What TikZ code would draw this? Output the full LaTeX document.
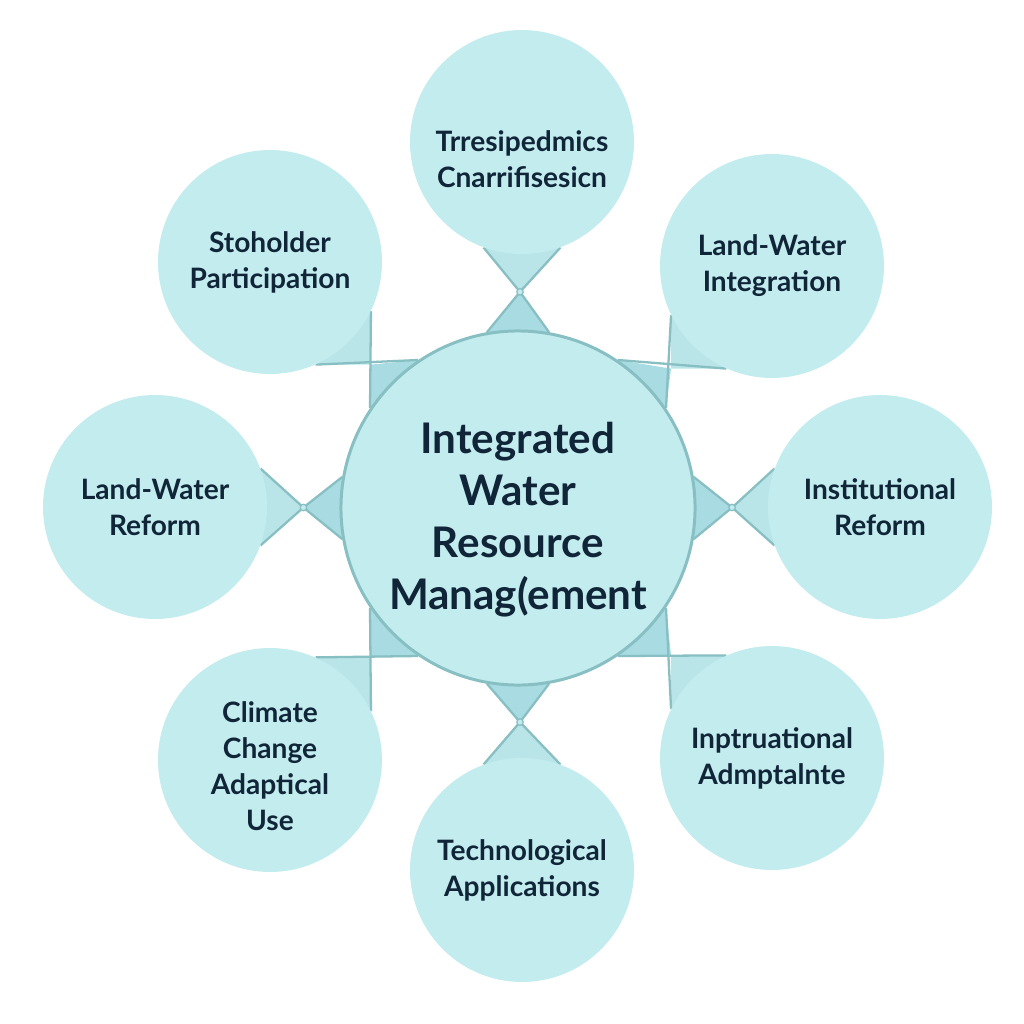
\documentclass[tikz,border=0pt]{standalone}
\usepackage{fontspec}
\setmainfont{Lato}
\usetikzlibrary{backgrounds,calc}

\definecolor{bubble}{HTML}{C3ECEF}
\definecolor{rim}{HTML}{88BFC3}
\definecolor{ink}{HTML}{102538}
\definecolor{tiedark}{HTML}{A8DCE2}
\definecolor{tielight}{HTML}{B9E5E9}

\tikzset{
  hub/.style={circle,fill=bubble,draw=rim,line width=1.7pt,minimum size=7cm,
    text=ink,align=center,font=\fontsize{24}{29.5}\selectfont\bfseries},
  topic/.style={circle,fill=bubble,minimum size=4.48cm,
    text=ink,align=center,font=\fontsize{16}{20.5}\selectfont\bfseries},
  tie/.style={draw=rim,line width=1.3pt},
  knot/.style={circle,draw=rim,fill=bubble,line width=0.7pt,inner sep=1.3pt},
}

\begin{document}
\begin{tikzpicture}[x=0.02cm,y=-0.02cm]
      \useasboundingbox (0,0) rectangle (1024,1024);

      \node[hub] (c) at (518,508) {\rule{0pt}{1.1cm}Integrated\\Water\\Resource\\Manag(ement};

      \node[topic] (t)  at (522,142) {\rule{0pt}{1.1cm}Trresipedmics\\Cnarrifisesicn};
      \node[topic] (ul) at (270,262) {Stoholder\\Participation};
      \node[topic] (ur) at (772,266) {Land-Water\\Integration};
      \node[topic] (l)  at (155,507) {Land-Water\\Reform};
      \node[topic] (r)  at (880,507) {Institutional\\Reform};
      \node[topic] (ll) at (270,760) {\rule{0pt}{0.65cm}Climate\\Change\\Adaptical\\Use};
      \node[topic] (lr) at (772,758) {Inptruational\\Admptalnte};
      \node[topic] (b)  at (522,870) {Technological\\Applications};

      \begin{pgfonlayer}{background}
        \fill[white] (0,0) rectangle (1024,1024);
        % bow ties to the four straight neighbours
        \foreach \n/\a/\o in {t/90/270,r/0/180,b/270/90,l/180/0}{
          \pgfmathtruncatemacro\ap{\a+10}
          \pgfmathtruncatemacro\am{\a-10}
          \pgfmathtruncatemacro\op{\o+20}
          \pgfmathtruncatemacro\om{\o-20}
          \coordinate (x\n) at ($(c.\a)!0.5!(\n.\o)$);
          \fill[tielight] (\n.\op)--(x\n)--(\n.\om)--cycle;
          \fill[tiedark] (c.\ap)--(x\n)--(c.\am)--cycle;
          \draw[tie] (\n.\op)--(x\n)--(c.\ap);
          \draw[tie] (\n.\om)--(x\n)--(c.\am);
        }
        % square joints to the diagonal neighbours
        \foreach \n/\v/\h/\cv/\ch in {ul/-26/-66/146/124,ur/206/246/34/56,
                                      ll/26/66/214/236,lr/154/114/-34/-56}{
          \coordinate (x\n) at (\n.\v |- \n.\h);
          \fill[tielight] (x\n)--(\n.\v)--(\n.\h)--cycle;
          \fill[tiedark] (x\n)--(c.\cv)--(c.\ch)--cycle;
          \draw[tie] (\n.\v)--(c.\cv);
          \draw[tie] (\n.\h)--(c.\ch);
        }
      \end{pgfonlayer}

      \foreach \n in {t,r,b,l}
        \node[knot] at (x\n) {};
    \end{tikzpicture}
\end{document}
